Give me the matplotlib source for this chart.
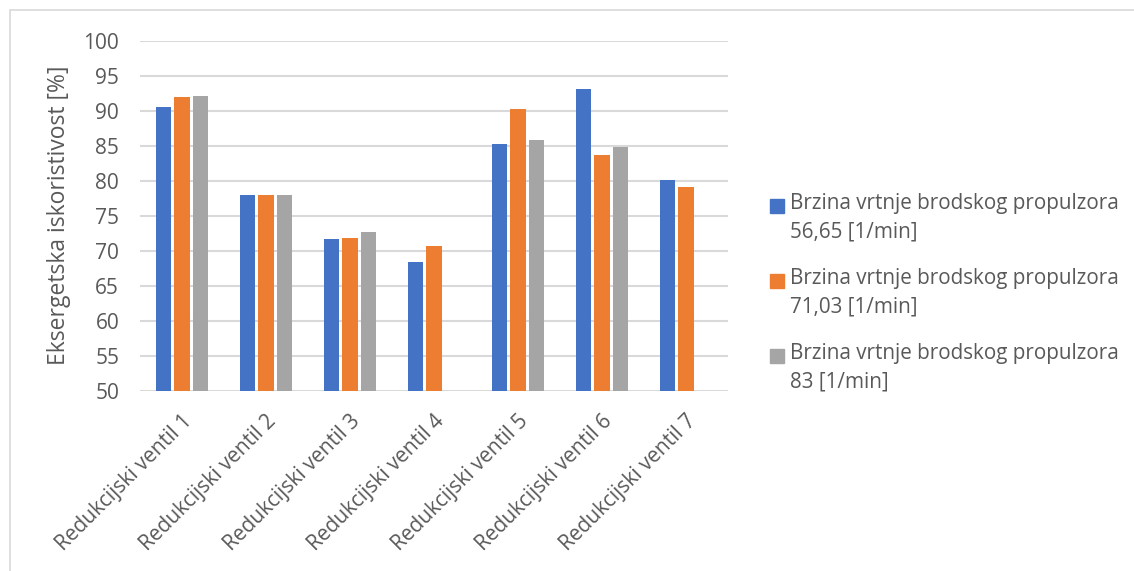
import numpy as np
import matplotlib
matplotlib.use("Agg")
from matplotlib import pyplot as plt
from matplotlib.patches import Rectangle

# values
categories = ["Redukcijski ventil 1", "Redukcijski ventil 2", "Redukcijski ventil 3",
              "Redukcijski ventil 4", "Redukcijski ventil 5", "Redukcijski ventil 6",
              "Redukcijski ventil 7"]
brzina_5665 = [90.6, 78.1, 71.8, 68.5, 85.3, 93.2, 80.2]
brzina_7103 = [92.0, 78.1, 71.9, 70.8, 90.3, 83.7, 79.2]
brzina_83 = [92.2, 78.0, 72.7, np.nan, 85.9, 84.9, np.nan]
series_labels = ["Brzina vrtnje brodskog propulzora\n56,65 [1/min]",
                 "Brzina vrtnje brodskog propulzora\n71,03 [1/min]",
                 "Brzina vrtnje brodskog propulzora\n83 [1/min]"]
colors = ["#4472C4", "#ED7D31", "#A5A5A5"]

plt.rcParams['font.family'] = ['Open Sans', 'DejaVu Sans']
txt = "#595959"
W, H = 1134, 571

fig = plt.figure(figsize=(W / 100, H / 100), dpi=100)
ax = fig.add_axes([140 / W, 1 - 391.3 / H, 588 / W, 350 / H])

# chart border like excel
fig.patches.append(Rectangle((10 / W, -0.1), 1.2, 1 - 10 / H + 0.1,
                             transform=fig.transFigure, fill=False,
                             edgecolor="#d9d9d9", linewidth=1.2))

x = np.arange(len(categories))
w = 0.185
step = 0.22
for i, vals in enumerate([brzina_5665, brzina_7103, brzina_83]):
    ax.bar(x + (i - 1) * step, vals, w, color=colors[i], zorder=3)

ax.set_ylim(50, 100)
ax.set_xlim(-0.5, len(categories) - 0.5)
ax.set_yticks(np.arange(50, 101, 5))
ax.yaxis.grid(True, color="#d9d9d9", linewidth=1.5, zorder=0)
ax.set_axisbelow(True)
for s in ax.spines.values():
    s.set_visible(False)
ax.tick_params(length=0, colors=txt, labelsize=15)
ax.tick_params(axis="y", pad=15)
ax.set_xticks(x)
ax.set_xticklabels(categories, rotation=45, ha="right", rotation_mode="anchor")
ax.tick_params(axis="x", pad=14)
ax.set_ylabel("Eksergetska iskoristivost [%]", color=txt, fontsize=16.5)
ax.yaxis.set_label_coords(-0.117, 0.504)

# legend drawn by hand: marker sits beside the first line of each label
for i, lab in enumerate(series_labels):
    ytop = 195 + i * 75
    fig.patches.append(Rectangle((770 / W, 1 - (ytop + 18) / H), 14 / W, 14 / H,
                                 transform=fig.transFigure, color=colors[i]))
    fig.text(790 / W, 1 - (ytop - 2) / H, lab, fontsize=14.9, color=txt,
             va="top", ha="left", linespacing=1.47)

plt.savefig("out.png", dpi=100)
